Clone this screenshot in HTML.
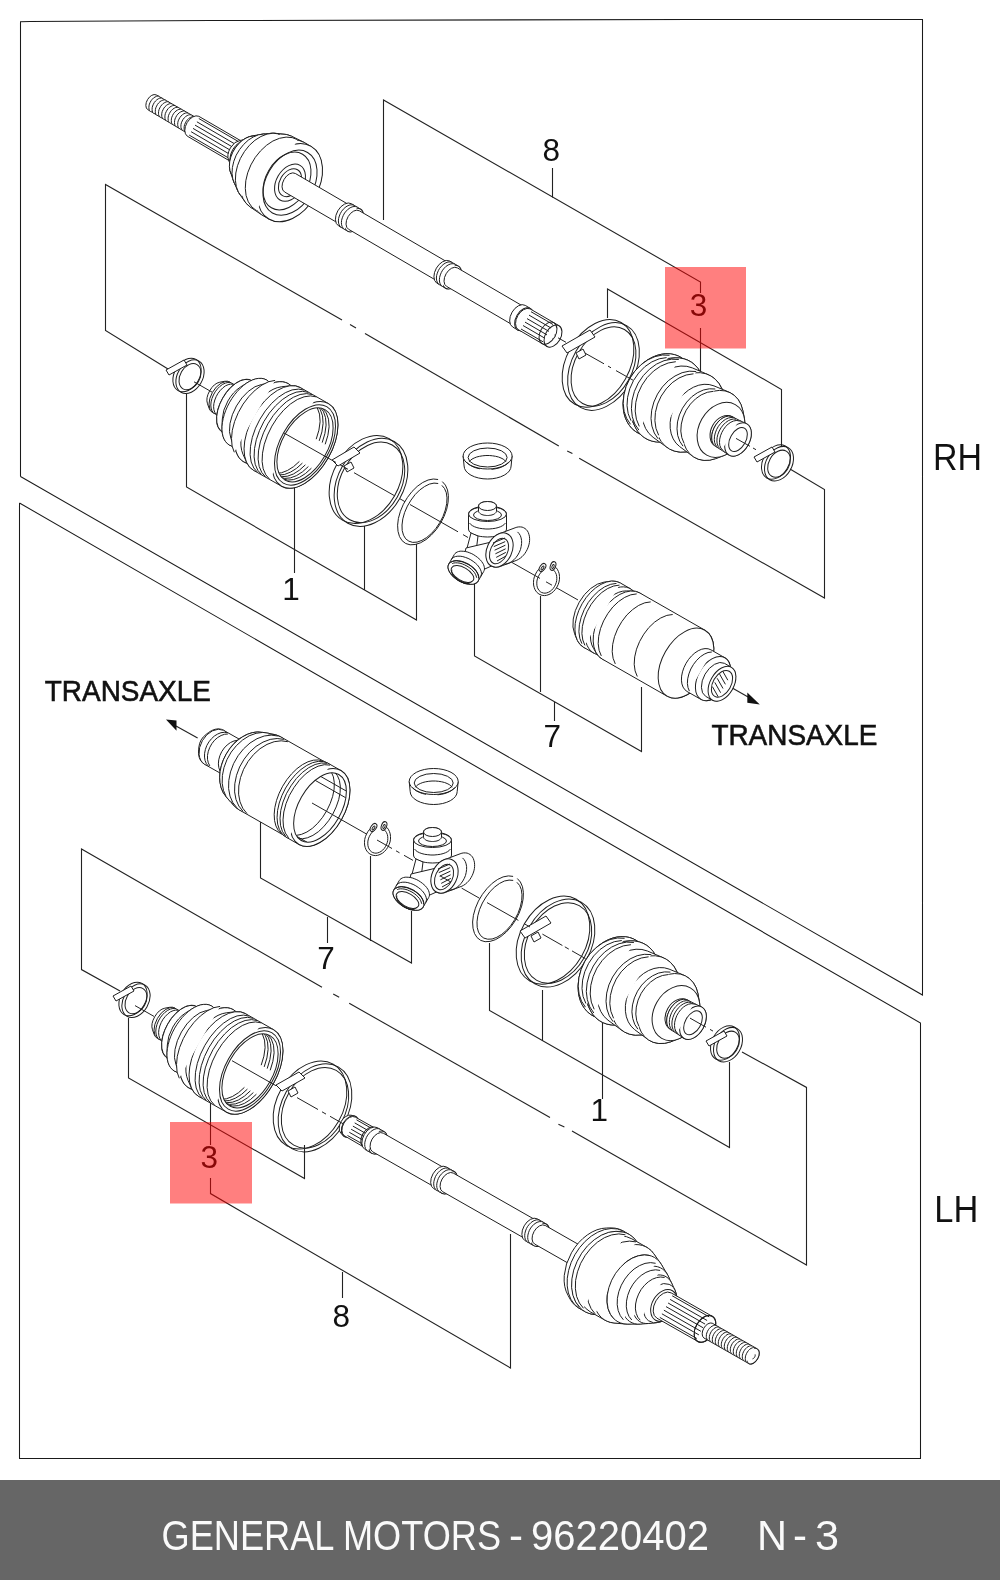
<!DOCTYPE html>
<html><head><meta charset="utf-8"><style>
html,body{margin:0;padding:0;background:#fff;}
body{width:1000px;height:1580px;overflow:hidden;position:relative;}
svg{position:absolute;left:0;top:0;will-change:transform;}
.ft{position:absolute;left:0;top:1480px;width:1000px;height:100px;background:#666;}
</style></head><body>
<svg width="1000" height="1480" viewBox="0 0 1000 1480">
<g fill="none" stroke="#1a1a1a" stroke-width="1.05">
<path d="M20.5,476.5 20.5,21.8 30,21.5 210,20.5 690,19.5 922.5,19.5 922.5,995 20.5,476.5"/>
<path d="M19.5,503 920.5,1023 920.5,1458.5 19.5,1458.5 19.5,503"/>
</g>
<g fill="none" stroke="#222" stroke-width="1.1">
<path d="M383.5,220 383.5,100 700.5,282 700.5,293"/>
<path d="M700.5,328 700.5,376"/>
<path d="M552.5,168 552.5,197.5"/>
<path d="M607.5,318 607.5,289 781.5,389.5 781.5,447"/>
<path d="M186.5,394 186.5,487 416.5,620 416.5,543"/>
<path d="M364.5,526 364.5,590"/>
<path d="M294.5,485 294.5,573"/>
<path d="M168,369 105.5,330.5 105.5,184.4 342,320"/>
<path d="M350,324.6 356,328"/>
<path d="M365,333.5 558.8,446"/>
<path d="M567.2,451 572.4,453.4"/>
<path d="M579.2,458.2 824.5,598 824.5,489.5 790,469"/>
<path d="M474.5,584 474.5,656 641.5,751.5 641.5,687"/>
<path d="M540.5,596 540.5,692"/>
<path d="M554.5,702 554.5,721"/>
<path d="M731.4,687.6 749,697.5"/>
<path d="M197.6,738 176,726"/>
</g>
<path d="M747.3,692.5 L747.3,702.8 L759.8,704.6 Z" fill="#111"/>
<path d="M166,719.6 L176.5,720.4 L176.5,730.8 Z" fill="#111"/>
<g fill="none" stroke="#222" stroke-width="1.1">
<path d="M260.5,822 260.5,878 411.5,963 411.5,911"/>
<path d="M370.5,856 370.5,941"/>
<path d="M327.5,917 327.5,943"/>
<path d="M489.5,943 489.5,1010.4 729.5,1147.6 729.5,1062"/>
<path d="M542.5,990 542.5,1041"/>
<path d="M602.5,1022 602.5,1099"/>
<path d="M120,991 81.5,969.6 81.5,849 322,987.2"/>
<path d="M333.2,994 339.2,997.2"/>
<path d="M349.2,1003.2 550,1117.5"/>
<path d="M558.4,1124.3 564.4,1127"/>
<path d="M572,1131 806.5,1265 806.5,1087.4 742,1052"/>
<path d="M210.5,1101 210.5,1145"/>
<path d="M210.5,1178 210.5,1193.6 510.5,1368 510.5,1234"/>
<path d="M342.5,1272 342.5,1298"/>
<path d="M128.5,1018 128.5,1078 304.5,1178.5 304.5,1145"/>
</g>
<g fill="#fff" stroke="#1e1e1e" stroke-width="1" stroke-linejoin="round">
<path d="M147.7,109.6L188.4,133.9A5.8 9 30.2 1 0 197.5,118.4L156.2,94.9A5.4 8.5 30.2 0 0 147.7,109.6Z" fill="#fff"/>
<ellipse cx="193" cy="126.2" rx="5.8" ry="9" transform="rotate(30.2 193 126.2)" fill="#fff"/>
<path d="M150.3,111.5 149.5,110.5 149,109.1 148.9,107.6 149,105.9 149.4,104.1 150.2,102.3 151.1,100.7 152.3,99.2 153.6,97.9 155.1,97 156.5,96.3 157.9,96.1 159.2,96.2"/>
<path d="M153.5,113.4 152.7,112.3 152.2,111 152.1,109.4 152.2,107.7 152.6,106 153.4,104.2 154.3,102.5 155.5,101 156.8,99.8 158.3,98.8 159.7,98.2 161.1,98 162.4,98.1"/>
<path d="M156.7,115.3 155.9,114.2 155.4,112.9 155.3,111.3 155.4,109.6 155.8,107.8 156.6,106.1 157.5,104.4 158.7,102.9 160,101.6 161.5,100.7 162.9,100.1 164.3,99.8 165.6,100"/>
<path d="M159.9,117.1 159.1,116.1 158.6,114.7 158.5,113.2 158.6,111.5 159,109.7 159.8,107.9 160.7,106.3 161.9,104.8 163.2,103.5 164.7,102.6 166.1,101.9 167.5,101.7 168.8,101.8"/>
<path d="M163.1,119 162.3,117.9 161.8,116.6 161.7,115 161.8,113.3 162.2,111.6 163,109.8 163.9,108.1 165.1,106.6 166.4,105.4 167.9,104.4 169.3,103.8 170.7,103.6 172,103.7"/>
<path d="M166.3,120.9 165.5,119.8 165,118.5 164.9,116.9 165,115.2 165.4,113.4 166.2,111.7 167.1,110 168.3,108.5 169.6,107.2 171.1,106.3 172.5,105.7 173.9,105.4 175.2,105.6"/>
<path d="M169.5,122.7 168.7,121.7 168.2,120.3 168.1,118.8 168.2,117.1 168.6,115.3 169.4,113.5 170.3,111.9 171.5,110.4 172.8,109.1 174.3,108.2 175.7,107.5 177.1,107.3 178.4,107.4"/>
<path d="M172.7,124.6 171.9,123.5 171.4,122.2 171.3,120.6 171.4,118.9 171.8,117.2 172.6,115.4 173.5,113.7 174.7,112.2 176,111 177.5,110 178.9,109.4 180.3,109.2 181.6,109.3"/>
<path d="M175.9,126.5 175.1,125.4 174.6,124.1 174.5,122.5 174.6,120.8 175,119 175.8,117.3 176.7,115.6 177.9,114.1 179.2,112.8 180.7,111.9 182.1,111.3 183.5,111 184.8,111.1"/>
<path d="M179.1,128.3 178.3,127.3 177.8,125.9 177.7,124.4 177.8,122.7 178.2,120.9 179,119.1 179.9,117.5 181.1,116 182.4,114.7 183.9,113.7 185.3,113.1 186.7,112.9 188,113"/>
<path d="M182.3,130.2 181.5,129.1 181,127.8 180.9,126.2 181,124.5 181.4,122.8 182.2,121 183.1,119.3 184.3,117.8 185.6,116.6 187.1,115.6 188.5,115 189.9,114.7 191.2,114.9"/>
<path d="M185.5,132.1 184.7,131 184.2,129.7 184.1,128.1 184.2,126.4 184.6,124.6 185.4,122.9 186.3,121.2 187.5,119.7 188.8,118.4 190.3,117.5 191.7,116.9 193.1,116.6 194.4,116.7"/>
<path d="M187.2,136.1L232.2,162.4A7.4 11.5 30.2 0 0 243.8,142.5L198.8,116.3A7.4 11.5 30.2 0 0 187.2,136.1Z" fill="#fff"/>
<ellipse cx="238" cy="152.4" rx="7.4" ry="11.5" transform="rotate(30.2 238 152.4)" fill="#fff"/>
<path d="M198.8,118.5 242.8,144.1"/>
<path d="M196.9,121.8 240.9,147.5"/>
<path d="M195,125.1 239,150.8"/>
<path d="M193,128.4 237,154.1"/>
<path d="M191.1,131.7 235.1,157.4"/>
<path d="M189.2,135.1 233.2,160.7"/>
<path d="M228.6,160.2L230.7,165.6A11.6 17 30.2 1 0 245.9,139.6L240.2,140.4A8.8 13 30.2 0 0 228.6,160.2Z" fill="#fff"/>
<path d="M229.9,158.9L229.5,163.3A16.3 24 30.2 1 0 243.3,139.7L239.7,142.2A11.6 17 30.2 0 0 229.9,158.9Z" fill="#fff"/>
<path d="M230.4,171.8L233.2,180.4A21.1 31 30.2 1 0 260,134.5L251.1,136.2A16.3 24 30.2 0 0 230.4,171.8Z" fill="#fff"/>
<path d="M234,182.3L237.7,190.7A25.2 37 30.2 1 0 271.2,133.3L262,134.2A21.1 31 30.2 0 0 234,182.3Z" fill="#fff"/>
<path d="M239.8,194.4L245.2,202A27.9 41 30.2 1 0 284.7,134.3L275.4,133.3A25.2 37 30.2 0 0 239.8,194.4Z" fill="#fff"/>
<path d="M250.1,206.9L260.6,214.1A28.6 42 30.2 1 0 302.8,141.7L291.3,136.1A27.9 41 30.2 0 0 250.1,206.9Z" fill="#fff"/>
<path d="M261.8,214.9L268.8,219A28.6 42 30.2 0 0 311.2,146.5L304.2,142.4A28.6 42 30.2 0 0 261.8,214.9Z" fill="#fff"/>
<ellipse cx="290" cy="182.7" rx="28.6" ry="42" transform="rotate(30.2 290 182.7)" fill="#fff"/>
<path d="M233.6,177.2 231.5,174.3 230,170.6 229.4,166.4 229.7,161.8 230.8,157 232.7,152.3 235.3,147.9 238.5,143.9 242.1,140.6 246,138.1 249.9,136.5 253.8,136 257.5,136.4"/>
<path d="M237.5,187.4 234.6,183.7 232.8,178.9 232,173.5 232.4,167.5 233.8,161.3 236.2,155.2 239.6,149.5 243.7,144.4 248.3,140.1 253.4,136.9 258.5,134.8 263.5,134.1 268.2,134.7"/>
<path d="M241.9,196.9 238.5,192.3 236.3,186.7 235.4,180.2 235.8,173 237.5,165.7 240.4,158.4 244.4,151.6 249.3,145.4 254.9,140.3 260.9,136.5 267,134.1 273,133.2 278.6,133.9"/>
<path d="M256.4,210.6 251.8,206.9 248.3,201.8 246.1,195.6 245.3,188.4 245.8,180.7 247.7,172.8 250.9,164.9 255.2,157.5 260.5,150.9 266.5,145.3 272.9,141 279.5,138.3 286.1,137.1 292.2,137.6 297.6,139.7"/>
<ellipse cx="290" cy="182.7" rx="23.8" ry="35" transform="rotate(30.2 290 182.7)" fill="none"/>
<ellipse cx="287" cy="181" rx="21.1" ry="31" transform="rotate(30.2 287 181)" fill="none"/>
<ellipse cx="290" cy="182.7" rx="13.6" ry="20" transform="rotate(30.2 290 182.7)" fill="none"/>
<ellipse cx="290" cy="182.7" rx="10.2" ry="15" transform="rotate(30.2 290 182.7)" fill="none"/>
<path d="M284.6,192L339.6,224A6.8 10.7 30.2 0 0 350.4,205.6L295.4,173.5A6.8 10.7 30.2 0 0 284.6,192Z" fill="#fff"/>
<path d="M338.6,225.9L347.6,231.1A8.2 12.8 30.2 0 0 360.4,209L351.4,203.7A8.2 12.8 30.2 0 0 338.6,225.9Z" fill="#fff"/>
<ellipse cx="354" cy="220.1" rx="8.2" ry="12.8" transform="rotate(30.2 354 220.1)" fill="#fff"/>
<path d="M341.6,227.6 340.2,226.5 339.2,225 338.6,223.1 338.4,220.9 338.6,218.5 339.3,216 340.3,213.6 341.6,211.3 343.3,209.2 345.1,207.5 347.1,206.1 349.1,205.2 351,204.8 352.8,204.9 354.4,205.5"/>
<path d="M344.6,229.4 343.2,228.3 342.2,226.7 341.6,224.8 341.4,222.6 341.6,220.3 342.3,217.8 343.3,215.4 344.6,213 346.3,211 348.1,209.2 350.1,207.8 352.1,206.9 354,206.5 355.8,206.6 357.4,207.2"/>
<path d="M348.6,229.3L437.6,281.2A6.8 10.7 30.2 0 0 448.4,262.7L359.4,210.8A6.8 10.7 30.2 0 0 348.6,229.3Z" fill="#fff"/>
<path d="M436.6,283L445.6,288.2A8.2 12.8 30.2 0 0 458.4,266.1L449.4,260.9A8.2 12.8 30.2 0 0 436.6,283Z" fill="#fff"/>
<ellipse cx="452" cy="277.2" rx="8.2" ry="12.8" transform="rotate(30.2 452 277.2)" fill="#fff"/>
<path d="M439.6,284.7 438.2,283.6 437.2,282.1 436.6,280.2 436.4,278 436.6,275.6 437.3,273.2 438.3,270.7 439.6,268.4 441.3,266.3 443.1,264.6 445.1,263.2 447.1,262.3 449,261.9 450.8,262 452.4,262.6"/>
<path d="M442.6,286.5 441.2,285.4 440.2,283.9 439.6,282 439.4,279.8 439.6,277.4 440.3,274.9 441.3,272.5 442.6,270.2 444.3,268.1 446.1,266.3 448.1,265 450.1,264.1 452,263.7 453.8,263.8 455.4,264.4"/>
<path d="M446.6,286.4L513.6,325.5A6.8 10.7 30.2 0 0 524.4,307L457.4,267.9A6.8 10.7 30.2 0 0 446.6,286.4Z" fill="#fff"/>
<path d="M512.7,327L517.7,330A8 12.5 30.2 0 0 530.3,308.4L525.3,305.4A8 12.5 30.2 0 0 512.7,327Z" fill="#fff"/>
<ellipse cx="524" cy="319.2" rx="8" ry="12.5" transform="rotate(30.2 524 319.2)" fill="#fff"/>
<path d="M518,329.5L547,346.4A7.7 12 30.2 0 0 559,325.7L530,308.8A7.7 12 30.2 0 0 518,329.5Z" fill="#fff"/>
<ellipse cx="553" cy="336.1" rx="7.7" ry="12" transform="rotate(30.2 553 336.1)" fill="#fff"/>
<path d="M531,311.7 553,324.5"/>
<path d="M529,315.1 551,328"/>
<path d="M527,318.6 549,331.4"/>
<path d="M525,322.1 547,334.9"/>
<path d="M523,325.5 545,338.3"/>
<path d="M521,329 543,341.8"/>
<ellipse cx="548" cy="333.2" rx="7.7" ry="12" transform="rotate(30.2 548 333.2)" fill="none"/>
<path d="M555.1,334.3 555.2,334.8 555.2,335.3 555.1,335.9 554.9,336.5 554.7,337 554.3,337.6 553.9,338 553.5,338.4 553,338.6 552.5,338.8"/>
<ellipse cx="598" cy="363.4" rx="31.5" ry="47" transform="rotate(29.5 598 363.4)" fill="none"/>
<ellipse cx="603.5" cy="366.5" rx="31.5" ry="47" transform="rotate(29.5 603.5 366.5)" fill="none"/>
<ellipse cx="603.5" cy="366.5" rx="28.5" ry="42.5" transform="rotate(29.5 603.5 366.5)" fill="none"/>
<path d="M562,346L590,330L595,337L567,353Z" fill="#fff"/>
<path d="M576,353L583,349L586,355L579,359Z" fill="#fff"/>
<path d="M624.4,393.4L623.9,395.8A33.1 43.5 29.5 1 0 641.7,364.4L639.9,366A28.9 38 29.5 0 0 624.4,393.4Z" fill="#fff"/>
<path d="M651.4,436.1L655.9,436A31.2 41 29.5 0 0 692.6,371L690.4,367.1A33.1 43.5 29.5 1 0 651.4,436.1Z" fill="#fff"/>
<path d="M632.6,421.7L635,426.6A33.8 44.5 29.5 1 0 673.8,357.9L668.3,358.4A31.2 41 29.5 0 0 632.6,421.7Z" fill="#fff"/>
<path d="M660.7,442.1L668.5,441.8A30.4 40 29.5 0 0 704.1,378.8L700.3,372A33.8 44.5 29.5 1 0 660.7,442.1Z" fill="#fff"/>
<path d="M653.1,437.3L667,447.4A31.9 42 29.5 1 0 708.1,374.6L692.3,367.9A30.4 40 29.5 0 0 653.1,437.3Z" fill="#fff"/>
<path d="M686.6,451.8L696.2,450.4A26.6 35 29.5 0 0 725.7,398.1L722,389.1A31.9 42 29.5 1 0 686.6,451.8Z" fill="#fff"/>
<path d="M679.7,446.6L692.6,456.2A28.1 37 29.5 1 0 728.8,392L714,385.9A26.6 35 29.5 0 0 679.7,446.6Z" fill="#fff"/>
<path d="M715.6,458.7L723,456A22 29 29.5 0 0 744.4,418.2L742.8,410.4A28.1 37 29.5 1 0 715.6,458.7Z" fill="#fff"/>
<ellipse cx="721" cy="429.9" rx="22" ry="29" transform="rotate(29.5 721 429.9)" fill="#fff"/>
<ellipse cx="724" cy="431.6" rx="12.9" ry="17" transform="rotate(29.5 724 431.6)" fill="#fff"/>
<path d="M630.5,424.3 626.6,418.3 624.1,411.3 623.2,403.3 623.9,395 626.1,386.5 629.9,378.4 634.9,371.1 640.9,364.8 647.8,359.9 655,356.6 662.4,355 669.5,355.3"/>
<path d="M631,420.7 628.2,413.7 627,405.7 627.6,397.3 629.8,388.7 633.5,380.5 638.6,373.1 644.8,366.7 651.8,361.9 659.2,358.8 666.6,357.6"/>
<path d="M638.9,430.1 634.8,424 632.3,416.8 631.4,408.6 632.1,400.1 634.4,391.4 638.2,383.1 643.3,375.6 649.5,369.2 656.5,364.1 664,360.7 671.5,359.2 678.8,359.5"/>
<path d="M639.3,426.4 636.4,419.2 635.2,411.1 635.8,402.4 638,393.6 641.9,385.2 647.1,377.6 653.5,371.1 660.6,366.2 668.2,363 675.8,361.7"/>
<path d="M658.1,438.8 654.3,433 651.9,426.1 651,418.4 651.7,410.2 653.9,402 657.5,394.1 662.4,386.9 668.3,380.7 675,376 682.1,372.7 689.2,371.2 696.2,371.5"/>
<path d="M658.7,435.3 656,428.5 654.9,420.7 655.4,412.5 657.5,404.1 661.2,396.1 666.2,388.9 672.2,382.7 679,378 686.2,375 693.5,373.8"/>
<path d="M683,446.2 679.8,441.3 677.7,435.4 677,428.8 677.5,421.9 679.4,414.9 682.5,408.2 686.7,402.1 691.7,396.8 697.3,392.8 703.4,390 709.4,388.8 715.3,389"/>
<path d="M684.1,443.4 681.8,437.6 680.8,431.1 681.3,424.1 683.1,417 686.2,410.2 690.4,404.1 695.5,398.9 701.2,394.9 707.3,392.3 713.5,391.3"/>
<path d="M715.3,446.2L724.1,451.8A11.2 17.5 29.5 1 0 741.3,421.3L732.1,416.7A10.9 17 29.5 0 0 715.3,446.2Z" fill="#fff"/>
<path d="M723.9,451.6L728.6,454.9A11.5 18 29.5 1 0 746.3,423.6L741.1,421.2A11.2 17.5 29.5 0 0 723.9,451.6Z" fill="#fff"/>
<ellipse cx="738" cy="439.5" rx="11.5" ry="18" transform="rotate(29.5 738 439.5)" fill="#fff"/>
<ellipse cx="738" cy="439.5" rx="7.8" ry="13" transform="rotate(29.5 738 439.5)" fill="none"/>
<path d="M714.4,445.4 713,443.4 712,440.9 711.7,438 711.9,434.8 712.7,431.4 714,428 715.8,424.9 718,422 720.4,419.6 723.1,417.8 725.8,416.6 728.4,416.1 730.9,416.3"/>
<path d="M717,446.9 715.6,444.9 714.6,442.4 714.3,439.5 714.5,436.2 715.3,432.9 716.6,429.5 718.4,426.3 720.6,423.5 723,421.1 725.7,419.2 728.4,418 731,417.5 733.5,417.7"/>
<path d="M719.6,448.4 718.2,446.4 717.2,443.9 716.9,440.9 717.1,437.7 717.9,434.3 719.2,431 721,427.8 723.2,425 725.6,422.6 728.3,420.7 731,419.5 733.6,419 736.1,419.2"/>
<path d="M722.2,449.8 720.8,447.9 719.8,445.3 719.5,442.4 719.7,439.2 720.5,435.8 721.8,432.5 723.6,429.3 725.8,426.4 728.2,424 730.9,422.2 733.6,421 736.2,420.5 738.7,420.7"/>
<ellipse cx="776" cy="462" rx="12.9" ry="18.5" transform="rotate(30 776 462)" fill="none"/>
<ellipse cx="779" cy="463.7" rx="12.9" ry="18.5" transform="rotate(30 779 463.7)" fill="none"/>
<ellipse cx="779" cy="463.7" rx="10.1" ry="14.5" transform="rotate(30 779 463.7)" fill="none"/>
<path d="M754,457L772,447L775,452L757,462Z" fill="#fff"/>
<ellipse cx="187" cy="375" rx="12.6" ry="18" transform="rotate(30 187 375)" fill="none"/>
<ellipse cx="190" cy="376.7" rx="12.6" ry="18" transform="rotate(30 190 376.7)" fill="none"/>
<ellipse cx="190" cy="376.7" rx="9.8" ry="14" transform="rotate(30 190 376.7)" fill="none"/>
<path d="M166,370L184,360L187,365L169,375Z" fill="#fff"/>
<path d="M207.5,403.8L209.1,408.3A10.5 17.5 29.6 1 0 224.5,381.3L219.8,382.2A8.4 14 29.6 0 0 207.5,403.8Z" fill="#fff"/>
<path d="M212.4,412.4L220.4,416.9A10.5 17.5 29.6 0 0 237.6,386.5L229.6,382A10.5 17.5 29.6 0 0 212.4,412.4Z" fill="#fff"/>
<path d="M225.2,417.7L228.7,417.1A9 15 29.6 0 0 242.1,393.6L240.8,390.3A10.5 17.5 29.6 1 0 225.2,417.7Z" fill="#fff"/>
<path d="M213.3,412.6 211.9,410.6 211.1,408.1 210.8,405.1 211.1,401.9 212,398.4 213.4,395 215.2,391.8 217.5,388.8 220,386.3 222.6,384.4 225.3,383.1 227.9,382.5 230.3,382.7"/>
<path d="M216.1,414.2 214.7,412.2 213.9,409.7 213.6,406.7 213.9,403.5 214.8,400 216.2,396.6 218,393.3 220.3,390.4 222.8,387.9 225.4,385.9 228.1,384.7 230.7,384.1 233.1,384.2"/>
<ellipse cx="237" cy="406.3" rx="16.5" ry="29.5" transform="rotate(29.6 237 406.3)" fill="#fff"/>
<path d="M227.5,433.2L232.3,433.2A15.1 27 29.6 0 0 257.7,388.4L255.3,384.3A16.5 29.5 29.6 1 0 227.5,433.2Z" fill="#fff"/>
<path d="M222.3,419.1L222,427.2A21 37.5 29.6 1 0 247.3,382.7L240.5,387A15.1 27 29.6 0 0 222.3,419.1Z" fill="#fff"/>
<path d="M236.8,446.7L242.9,446.4A19 34 29.6 0 0 274.4,390.8L271.6,385.4A21 37.5 29.6 1 0 236.8,446.7Z" fill="#fff"/>
<path d="M230.9,438.4L236.7,453.3A25.2 45 29.6 1 0 277.2,382L261.5,384.5A19 34 29.6 0 0 230.9,438.4Z" fill="#fff"/>
<path d="M253.3,463.7L258.2,463.2A23.5 42 29.6 0 0 296.8,395.3L294.7,390.9A25.2 45 29.6 1 0 253.3,463.7Z" fill="#fff"/>
<path d="M243,454.3L246.5,462.1A26.6 47.5 29.6 1 0 289.8,385.8L281.3,386.8A23.5 42 29.6 0 0 243,454.3Z" fill="#fff"/>
<path d="M253.5,470.3L281.5,486.2A26.6 47.5 29.6 0 0 328.5,403.6L300.5,387.7A26.6 47.5 29.6 0 0 253.5,470.3Z" fill="#fff"/>
<ellipse cx="305" cy="444.9" rx="26.6" ry="47.5" transform="rotate(29.6 305 444.9)" fill="#fff"/>
<path d="M257.6,472.4 253.8,468 251.2,462 250.1,454.7 250.5,446.3 252.3,437.4 255.5,428.2 259.9,419.3 265.3,410.9 271.6,403.4 278.3,397.3 285.3,392.7 292.1,389.9 298.6,389.1 304.4,390.1"/>
<path d="M261.6,474.7 257.8,470.3 255.2,464.3 254.1,456.9 254.5,448.6 256.3,439.7 259.5,430.5 263.9,421.5 269.3,413.1 275.6,405.7 282.3,399.6 289.3,395 296.1,392.2 302.6,391.3 308.4,392.4"/>
<path d="M265.6,476.9 261.8,472.5 259.2,466.5 258.1,459.2 258.5,450.9 260.3,441.9 263.5,432.8 267.9,423.8 273.3,415.4 279.6,408 286.3,401.8 293.3,397.3 300.1,394.5 306.6,393.6 312.4,394.6"/>
<path d="M269.6,479.2 265.8,474.8 263.2,468.8 262.1,461.5 262.5,453.2 264.3,444.2 267.5,435.1 271.9,426.1 277.3,417.7 283.6,410.2 290.3,404.1 297.3,399.5 304.1,396.8 310.6,395.9 316.4,396.9"/>
<path d="M234.3,452.3 232.1,446.1 231.5,438.6 232.3,430.3 234.6,421.5 238.3,412.6 243.1,404.1 248.9,396.5 255.3,390 262,385 268.7,381.7 275.1,380.4"/>
<ellipse cx="305" cy="444.9" rx="24.6" ry="44" transform="rotate(29.6 305 444.9)" fill="none"/>
<ellipse cx="305" cy="444.9" rx="22.7" ry="40.5" transform="rotate(29.6 305 444.9)" fill="none"/>
<clipPath id="c1"><ellipse cx="305" cy="444.9" rx="22.7" ry="40.5" transform="rotate(29.6 305 444.9)" fill="none"/></clipPath>
<g clip-path="url(#c1)" fill="none">
<path d="M322.6,408.5 326.3,413 328.5,419.2 329.1,426.8 327.9,435.3 325.2,444.3"/>
<path d="M319.6,406.8 323.3,411.3 325.5,417.5 326.1,425.1 324.9,433.6 322.2,442.6"/>
<path d="M316.6,405.1 320.3,409.6 322.5,415.8 323.1,423.4 321.9,431.9 319.2,440.9"/>
<path d="M313.6,403.4 317.3,407.9 319.5,414.1 320.1,421.7 318.9,430.2 316.2,439.2"/>
<path d="M311.4,468.2 305.5,473.5 299.4,477.4 293.4,479.6 287.8,480.1 282.9,478.9 278.9,475.9"/>
<path d="M308.4,466.5 302.5,471.8 296.4,475.7 290.4,477.9 284.8,478.4 279.9,477.2 275.9,474.2"/>
<path d="M305.4,464.8 299.5,470.1 293.4,474 287.4,476.2 281.8,476.7 276.9,475.4 272.9,472.5"/>
<path d="M302.4,463.1 296.5,468.4 290.4,472.2 284.4,474.5 278.8,475 273.9,473.7 269.9,470.8"/>
<path d="M299.4,461.4 293.5,466.7 287.4,470.5 281.4,472.8 275.8,473.3 270.9,472 266.9,469.1"/>
</g>
<ellipse cx="366" cy="479.5" rx="32.9" ry="47" transform="rotate(29.6 366 479.5)" fill="none"/>
<ellipse cx="371" cy="482.4" rx="32.9" ry="47" transform="rotate(29.6 371 482.4)" fill="none"/>
<ellipse cx="371" cy="482.4" rx="30.1" ry="43" transform="rotate(29.6 371 482.4)" fill="none"/>
<path d="M332,460L354,447L360,453L338,466Z" fill="#fff"/>
<path d="M344,466L351,462L354,468L347,472Z" fill="#fff"/>
<path d="M442.3,481.6 445.4,485.1 447.5,489.9 448.4,495.6 448.1,502.2 446.7,509.2 444.1,516.3 440.6,523.2 436.3,529.6 431.3,535.1 426,539.6 420.5,542.8 415.1,544.5 410.1,544.8 405.7,543.5 402.1,540.7 399.5,536.6 398,531.3 397.6,525.2 398.4,518.4 400.4,511.3 403.4,504.2 407.4,497.5 412,491.5 417.2,486.4 422.7,482.5 428.1,480 433.3,479 438.1,479.5"/>
<path d="M441.9,485.4 444.5,488.5 446.3,492.7 447,497.9 446.7,503.7 445.3,510 443,516.4 439.8,522.6 435.9,528.4 431.5,533.4 426.7,537.5 421.9,540.4 417.1,542.1 412.7,542.4 408.9,541.2 405.7,538.8 403.5,535.2 402.2,530.5 402,525 402.8,518.9 404.6,512.5 407.4,506.1 411,500.1 415.1,494.6 419.7,490 424.6,486.5 429.4,484.1 434,483.1 438.2,483.5"/>
<path d="M463.1,456L464.1,466A23.5 13 0 0 0 511.1,466L512.1,456Z" fill="#fff"/>
<ellipse cx="487.6" cy="456" rx="24.5" ry="13" transform="rotate(0 487.6 456)" fill="#fff"/>
<ellipse cx="487.6" cy="457.5" rx="19.5" ry="9.5" transform="rotate(0 487.6 457.5)" fill="none"/>
<path d="M469.2,461.8L470.4,460.4L472,459.1L474.2,458L476.7,457L479.6,456.3L482.7,455.8L485.9,455.5L489.3,455.5L492.5,455.8L495.6,456.3L498.5,457L501,458L503.2,459.1L504.8,460.4L506,461.8" fill="none"/>
<path d="M508.7,461.9L507.1,463.8L504.8,465.4L502.1,466.8L498.9,468L495.3,468.8L491.5,469.3" fill="none"/>
<path d="M479.9,468.8L476.4,468L473.1,466.8L470.4,465.4L468.1,463.8L466.5,461.9" fill="none"/>
<path d="M468.5,514L468.7,513L469.1,511.9L469.9,510.9L471,510L472.4,509.1L474.1,508.3L475.9,507.7L478,507.1L480.2,506.6L482.6,506.3L485,506.1L487.5,506L490,506.1L492.4,506.3L494.8,506.6L497,507.1L499.1,507.7L500.9,508.3L502.6,509.1L504,510L505.1,510.9L505.9,511.9L506.3,513L506.5,514L506.5,529L506.3,530L505.9,531.1L505.1,532.1L504,533L502.6,533.9L500.9,534.7L499.1,535.3L497,535.9L494.8,536.4L492.4,536.7L490,536.9L487.5,537L485,536.9L482.6,536.7L480.2,536.4L478,535.9L475.9,535.3L474.1,534.7L472.4,533.9L471,533L469.9,532.1L469.1,531.1L468.7,530L468.5,529Z" fill="#fff"/>
<ellipse cx="487.5" cy="514" rx="19" ry="7.5" transform="rotate(0 487.5 514)" fill="#fff"/>
<ellipse cx="487.5" cy="515" rx="14" ry="5.5" transform="rotate(0 487.5 515)" fill="none"/>
<path d="M505.4,523.1L504.3,524.4L502.7,525.6L500.6,526.7L498.1,527.6L495.3,528.3L492.3,528.7L489.1,529L485.9,529L482.7,528.7L479.7,528.3L476.9,527.6L474.4,526.7L472.3,525.6L470.7,524.4L469.6,523.1" fill="none"/>
<path d="M478.5,506L478.6,505.4L478.8,504.8L479.2,504.3L479.7,503.8L480.4,503.3L481.1,502.8L482,502.4L483,502.1L484.1,501.8L485.2,501.7L486.3,501.5L487.5,501.5L488.7,501.5L489.8,501.7L490.9,501.8L492,502.1L493,502.4L493.9,502.8L494.6,503.3L495.3,503.8L495.8,504.3L496.2,504.8L496.4,505.4L496.5,506L496.5,511L496.4,511.6L496.2,512.2L495.8,512.7L495.3,513.2L494.6,513.7L493.9,514.2L493,514.6L492,514.9L490.9,515.2L489.8,515.3L488.7,515.5L487.5,515.5L486.3,515.5L485.2,515.3L484.1,515.2L483,514.9L482,514.6L481.1,514.2L480.4,513.7L479.7,513.2L479.2,512.7L478.8,512.2L478.6,511.6L478.5,511Z" fill="#fff"/>
<ellipse cx="487.5" cy="506" rx="9" ry="4.5" transform="rotate(0 487.5 506)" fill="#fff"/>
<path d="M471,533L478,536L476,552L466,552Z" fill="#fff"/>
<path d="M466,548L500,540L505,560L478,572L462,565Z" fill="#fff"/>
<path d="M486.4,555.7L486.4,553.6L486.6,551.4L487.1,549.1L487.8,546.9L488.7,544.7L489.8,542.6L491,540.7L492.4,538.9L494,537.3L495.6,535.9L497.4,534.7L499.1,533.8L515.1,527.8L516.9,527.2L518.7,526.9L520.4,526.9L522.1,527.1L523.6,527.7L525,528.5L526.3,529.6L527.4,530.9L528.3,532.5L528.9,534.3L529.4,536.2L529.6,538.3L529.6,540.4L529.4,542.6L528.9,544.9L528.2,547.1L527.3,549.3L526.2,551.4L525,553.3L523.6,555.1L522,556.7L520.4,558.1L518.6,559.3L516.9,560.2L500.9,566.2L499.1,566.8L497.3,567.1L495.6,567.1L493.9,566.9L492.4,566.3L491,565.5L489.7,564.4L488.6,563.1L487.7,561.5L487.1,559.7L486.6,557.8Z" fill="#fff"/>
<path d="M517.5,531.9L519,533.5L520.3,535.5L521.1,537.9L521.6,540.6L521.6,543.4L521.2,546.4L520.5,549.4L519.3,552.3L517.8,555L516,557.5L514,559.7L511.8,561.5L509.5,562.9L507.1,563.8L504.7,564.1L502.5,564L500.4,563.3" fill="none"/>
<ellipse cx="499.5" cy="550" rx="12.5" ry="18" transform="rotate(25 499.5 550)" fill="#fff"/>
<ellipse cx="499" cy="551" rx="8.5" ry="13.5" transform="rotate(25 499 551)" fill="none"/>
<path d="M493,543 505,538"/>
<path d="M493.8,546.6 505.2,541.6"/>
<path d="M494.6,550.2 505.4,545.2"/>
<path d="M495.4,553.8 505.6,548.8"/>
<path d="M496.2,557.4 505.8,552.4"/>
<path d="M497,561 506,556"/>
<path d="M448,566.4L448.3,565.1L448.8,564L454.3,554.5L455,553.5L456,552.7L457.2,552L458.6,551.5L460.2,551.2L461.9,551.2L463.8,551.3L465.8,551.6L467.8,552.1L469.8,552.9L471.8,553.7L473.8,554.8L475.6,556L477.4,557.3L479,558.7L480.5,560.1L481.7,561.6L482.8,563.2L483.6,564.7L484.1,566.2L484.4,567.7L484.5,569.1L484.2,570.4L483.7,571.5L478.2,581L477.5,582L476.5,582.8L475.3,583.5L473.9,584L472.3,584.3L470.6,584.3L468.7,584.2L466.7,583.9L464.7,583.4L462.7,582.6L460.7,581.8L458.8,580.7L456.9,579.5L455.1,578.2L453.5,576.8L452,575.4L450.8,573.9L449.7,572.3L448.9,570.8L448.4,569.3L448.1,567.8Z" fill="#fff"/>
<path d="M451.3,559.5L452.3,558.2L453.8,557.2L455.6,556.5L457.8,556.2L460.2,556.2L462.8,556.6L465.4,557.4L468.1,558.4L470.8,559.8L473.2,561.4L475.5,563.2L477.5,565.1L479.1,567.2L480.3,569.2L481.1,571.2L481.5,573.2L481.3,574.9L480.7,576.5" fill="none"/>
<ellipse cx="463.5" cy="572.5" rx="17" ry="9.5" transform="rotate(30 463.5 572.5)" fill="#fff"/>
<ellipse cx="462.5" cy="574" rx="12.5" ry="6.5" transform="rotate(30 462.5 574)" fill="none"/>
<path d="M472,581.2L471.3,582L470.4,582.5L469.2,582.9L467.9,583L466.3,582.8L464.6,582.5L462.8,581.9L461,581.2L459.2,580.3L457.6,579.2L456,578L454.6,576.8L453.5,575.5L452.6,574.2L452,572.9L451.7,571.7L451.7,570.7L452,569.8" fill="none"/>
<path d="M469.3,583.3L468.2,583.5L467,583.5L465.6,583.4L464.1,583L462.5,582.5L460.9,581.7L459.2,580.9L457.7,579.9L456.3,578.9L455,577.8L453.9,576.6L453.1,575.5L452.5,574.4L452.2,573.4" fill="none"/>
<path d="M452.2,563.6L453.8,563L455.6,562.8L457.7,562.9L460,563.2L462.3,563.9L464.7,564.9L467,566.1L469.2,567.5L471.2,569.1L473,570.8L474.4,572.5L475.5,574.3L476.2,576L476.6,577.7" fill="none"/>
<path d="M451.1,562.3L452.4,561.5L454.1,560.9L456.1,560.6L458.3,560.7L460.8,561.1L463.3,561.8L465.8,562.9L468.2,564.1L470.6,565.6L472.7,567.3L474.6,569.1L476.2,571L477.3,572.9L478.1,574.7L478.5,576.5L478.4,578.1" fill="none"/>
<path d="M554,566L555.8,567.4L557.3,569.2L558.4,571.4L559.2,573.8L559.5,576.5L559.5,579.2L559,582L558.1,584.7L556.8,587.3L555.2,589.6L553.4,591.6L551.3,593.3L549,594.5L546.7,595.3L544.4,595.6L542.1,595.3L540,594.6L538.1,593.4L536.4,591.8L535.1,589.8L534.2,587.5L533.6,585L533.5,582.3L533.7,579.5L534.4,576.7L535.5,574.1L536.9,571.6L538.6,569.4L540.6,567.5L542.8,566.1" fill="none"/>
<path d="M553.3,569.9L554.5,571.1L555.5,572.6L556.3,574.4L556.7,576.3L556.8,578.4L556.7,580.5L556.2,582.7L555.4,584.8L554.4,586.7L553.2,588.5L551.7,590.1L550.1,591.4L548.4,592.3L546.7,592.9L545,593.2L543.3,593L541.7,592.5L540.3,591.7L539.1,590.5L538.1,589L537.3,587.2L536.9,585.3L536.8,583.2L536.9,581.1L537.4,578.9L538.2,576.8L539.2,574.9L540.4,573.1L541.9,571.5L543.5,570.2" fill="none"/>
<ellipse cx="542.5" cy="567.5" rx="2.6" ry="4.5" transform="rotate(35 542.5 567.5)" fill="#fff"/>
<ellipse cx="553" cy="566" rx="2.6" ry="4.5" transform="rotate(20 553 566)" fill="#fff"/>
<ellipse cx="542.5" cy="568" rx="1" ry="2.2" transform="rotate(35 542.5 568)" fill="none"/>
<ellipse cx="553" cy="566.5" rx="1" ry="2.2" transform="rotate(20 553 566.5)" fill="none"/>
<path d="M574.6,633.8L576.8,639.2A22.9 37 29.8 1 0 610,581.3L604.1,582.1A20.5 33 29.8 0 0 574.6,633.8Z" fill="#fff"/>
<path d="M583.6,647.3L593.6,653A22.9 37 29.8 0 0 630.4,588.7L620.4,583A22.9 37 29.8 0 0 583.6,647.3Z" fill="#fff"/>
<path d="M599.7,654.9L604.3,655.3A21.7 35 29.8 0 0 637.8,596.8L635.1,593A22.9 37 29.8 1 0 599.7,654.9Z" fill="#fff"/>
<path d="M593.5,648.4L596.5,653.5A23.6 38 29.8 1 0 632.3,591L626.4,590.9A21.7 35 29.8 0 0 593.5,648.4Z" fill="#fff"/>
<path d="M602.1,659L667.1,696.2A23.6 38 29.8 0 0 704.9,630.2L639.9,593A23.6 38 29.8 0 0 602.1,659Z" fill="#fff"/>
<ellipse cx="686" cy="663.2" rx="23.6" ry="38" transform="rotate(29.8 686 663.2)" fill="#fff"/>
<path d="M581.9,643.7 579.8,638.3 578.9,631.8 579.4,624.7 581.2,617.2 584.2,609.7 588.2,602.6 593.2,596.2 598.8,590.8 604.7,586.8 610.7,584.3 616.5,583.4"/>
<path d="M584.9,645.4 582.8,640 581.9,633.6 582.4,626.4 584.2,618.9 587.2,611.4 591.2,604.3 596.2,597.9 601.8,592.5 607.7,588.5 613.7,586 619.5,585.1"/>
<path d="M601.3,655.9 599.1,650.3 598.2,643.7 598.7,636.3 600.5,628.6 603.6,620.9 607.8,613.6 612.8,607 618.6,601.5 624.7,597.4 630.8,594.8 636.7,593.9"/>
<path d="M615.3,663.9 613.1,658.3 612.2,651.7 612.7,644.3 614.5,636.6 617.6,628.9 621.8,621.6 626.8,615 632.6,609.6 638.7,605.4 644.8,602.8 650.7,601.9"/>
<path d="M637.3,676.5 635.1,670.9 634.2,664.3 634.7,656.9 636.5,649.2 639.6,641.5 643.8,634.2 648.8,627.6 654.6,622.1 660.7,618 666.8,615.4 672.7,614.5"/>
<path d="M687.1,691.5L701.1,699.5A14.9 24 29.8 0 0 724.9,657.8L710.9,649.8A14.9 24 29.8 0 0 687.1,691.5Z" fill="#fff"/>
<ellipse cx="713" cy="678.6" rx="14.9" ry="24" transform="rotate(29.8 713 678.6)" fill="#fff"/>
<path d="M705.6,696.3L712.6,700.3A11.8 19 29.8 0 0 731.4,667.3L724.4,663.3A11.8 19 29.8 0 0 705.6,696.3Z" fill="#fff"/>
<ellipse cx="722" cy="683.8" rx="11.8" ry="19" transform="rotate(29.8 722 683.8)" fill="#fff"/>
<path d="M689.4,691.1 688,687.6 687.4,683.4 687.7,678.8 688.9,673.9 690.8,669 693.5,664.4 696.7,660.3 700.3,656.8 704.2,654.2 708,652.5 711.8,652"/>
<ellipse cx="722" cy="683.8" rx="9" ry="14.5" transform="rotate(29.8 722 683.8)" fill="none"/>
<clipPath id="c2"><ellipse cx="722" cy="683.8" rx="9" ry="14.5" transform="rotate(29.8 722 683.8)" fill="none"/></clipPath>
<g clip-path="url(#c2)" fill="none">
<path d="M722,669.9 727.8,680.2"/>
<path d="M719.6,674.1 725.4,684.3"/>
<path d="M717.2,678.3 723,688.5"/>
<path d="M714.8,682.4 720.6,692.7"/>
<path d="M712.4,686.6 718.2,696.8"/>
<path d="M710,690.8 715.9,701"/>
</g>
<path d="M198.9,746.9L198.6,749.9A14 19.5 29.6 1 0 208.4,732.6L206,734.5A10.1 14 29.6 0 0 198.9,746.9Z" fill="#fff"/>
<path d="M204.4,764.2L224.4,775.5A14 19.5 29.6 0 0 243.6,741.6L223.6,730.3A14 19.5 29.6 0 0 204.4,764.2Z" fill="#fff"/>
<path d="M227.5,776.7L232,777.6A13 18 29.6 0 0 249.3,747.2L246.2,743.8A14 19.5 29.6 1 0 227.5,776.7Z" fill="#fff"/>
<path d="M208.4,766.1 206.4,763.7 205.1,760.6 204.5,757.1 204.6,753.3 205.4,749.4 206.8,745.5 208.9,741.9 211.5,738.7 214.4,736 217.7,734 221,732.7 224.3,732.3 227.4,732.7"/>
<path d="M209.8,765.9 208.3,762.8 207.5,759.3 207.5,755.4 208.3,751.3 209.8,747.3 211.9,743.6 214.6,740.2 217.7,737.5 221.1,735.5 224.5,734.3 227.9,734"/>
<ellipse cx="250" cy="767.7" rx="27.4" ry="38" transform="rotate(29.6 250 767.7)" fill="#fff"/>
<path d="M225.9,796.3L233.3,805A30.2 42 29.6 1 0 273.5,734.3L262.2,732.3A27.4 38 29.6 0 0 225.9,796.3Z" fill="#fff"/>
<path d="M239.2,809.9L283.2,834.9A30.2 42 29.6 0 0 324.8,761.9L280.8,736.9A30.2 42 29.6 0 0 239.2,809.9Z" fill="#fff"/>
<path d="M230.2,801.7 226.2,796.7 223.5,790.5 222.2,783.3 222.4,775.5 224,767.5 227,759.5 231.2,752.1 236.5,745.5 242.6,740 249.2,735.8 256.1,733.3 262.8,732.4 269.1,733.3"/>
<path d="M237,807.9 232.8,802.6 230,796.1 228.6,788.5 228.8,780.4 230.5,771.9 233.6,763.6 238.1,755.7 243.6,748.8 250,743 257,738.7 264.2,736 271.2,735.1 277.9,736"/>
<path d="M243,811.3 238.8,806 236,799.5 234.6,791.9 234.8,783.8 236.5,775.3 239.6,767 244.1,759.2 249.6,752.2 256,746.4 263,742.1 270.2,739.4 277.2,738.5 283.9,739.4"/>
<path d="M247,813.6 242.8,808.3 240,801.8 238.6,794.2 238.8,786 240.5,777.6 243.6,769.3 248.1,761.4 253.6,754.5 260,748.7 267,744.4 274.2,741.7 281.2,740.8 287.9,741.7"/>
<path d="M281.5,833.8L284.3,835.9A24.6 42.5 29.6 1 0 326.1,762.3L322.9,761A24.4 42 29.6 0 0 281.5,833.8Z" fill="#fff"/>
<path d="M286,837.1L299,844.5A24.6 42.5 29.6 0 0 341,770.6L328,763.2A24.6 42.5 29.6 0 0 286,837.1Z" fill="#fff"/>
<ellipse cx="320" cy="807.5" rx="24.6" ry="42.5" transform="rotate(29.6 320 807.5)" fill="#fff"/>
<path d="M285.6,836.1 282.4,831.4 280.5,825.3 280,818.2 280.8,810.3 283,802 286.4,793.7 291,785.8 296.3,778.6 302.3,772.5 308.7,767.7 315.1,764.5 321.3,763 327,763.3"/>
<path d="M288.6,837.8 285.4,833.1 283.5,827 283,819.9 283.8,812 286,803.7 289.4,795.4 294,787.5 299.3,780.3 305.3,774.2 311.7,769.4 318.1,766.2 324.3,764.7 330,765.1"/>
<ellipse cx="320" cy="807.5" rx="21.3" ry="38" transform="rotate(29.6 320 807.5)" fill="none"/>
<clipPath id="c3"><ellipse cx="320" cy="807.5" rx="21.3" ry="38" transform="rotate(29.6 320 807.5)" fill="none"/></clipPath>
<g clip-path="url(#c3)" fill="none">
<path d="M334.3,772.1 337.4,775.6 339.4,780.3 340.3,786.1 340.1,792.6 338.7,799.7 336.2,806.9 332.8,814.1 328.6,820.7 323.7,826.7 318.4,831.7 312.9,835.4 307.4,837.8 302.3,838.8 297.6,838.2 293.7,836.1"/>
<path d="M328.3,768.7 331.4,772.2 333.4,776.9 334.3,782.7 334.1,789.2 332.7,796.3 330.2,803.5 326.8,810.6 322.6,817.3 317.7,823.3 312.4,828.3 306.9,832 301.4,834.4 296.3,835.4 291.6,834.8 287.7,832.7"/>
<path d="M346.4,791.1 296.4,762.6"/>
<path d="M345.8,797.8 295.8,769.3"/>
<path d="M307,842.2 257,813.7"/>
<path d="M302.5,841.2 252.5,812.8"/>
<path d="M306.6,789.3 256.6,760.9"/>
<path d="M311.6,783.6 261.6,755.1"/>
</g>
<path d="M409.2,781.5L410.2,791.5A23.5 13 0 0 0 457.2,791.5L458.2,781.5Z" fill="#fff"/>
<ellipse cx="433.7" cy="781.5" rx="24.5" ry="13" transform="rotate(0 433.7 781.5)" fill="#fff"/>
<ellipse cx="433.7" cy="783" rx="19.5" ry="9.5" transform="rotate(0 433.7 783)" fill="none"/>
<path d="M415.3,787.3L416.5,785.9L418.1,784.6L420.3,783.5L422.8,782.5L425.7,781.8L428.8,781.3L432,781L435.4,781L438.6,781.3L441.7,781.8L444.6,782.5L447.1,783.5L449.3,784.6L450.9,785.9L452.1,787.3" fill="none"/>
<path d="M454.8,787.4L453.2,789.2L450.9,790.9L448.2,792.3L444.9,793.5L441.4,794.3L437.6,794.8" fill="none"/>
<path d="M426,794.3L422.4,793.5L419.2,792.3L416.5,790.9L414.2,789.2L412.6,787.4" fill="none"/>
<path d="M413.5,840L413.7,839L414.1,837.9L414.9,836.9L416,836L417.4,835.1L419.1,834.3L420.9,833.7L423,833.1L425.2,832.6L427.6,832.3L430,832.1L432.5,832L435,832.1L437.4,832.3L439.8,832.6L442,833.1L444.1,833.7L445.9,834.3L447.6,835.1L449,836L450.1,836.9L450.9,837.9L451.3,839L451.5,840L451.5,855L451.3,856L450.9,857.1L450.1,858.1L449,859L447.6,859.9L445.9,860.7L444.1,861.3L442,861.9L439.8,862.4L437.4,862.7L435,862.9L432.5,863L430,862.9L427.6,862.7L425.2,862.4L423,861.9L420.9,861.3L419.1,860.7L417.4,859.9L416,859L414.9,858.1L414.1,857.1L413.7,856L413.5,855Z" fill="#fff"/>
<ellipse cx="432.5" cy="840" rx="19" ry="7.5" transform="rotate(0 432.5 840)" fill="#fff"/>
<ellipse cx="432.5" cy="841" rx="14" ry="5.5" transform="rotate(0 432.5 841)" fill="none"/>
<path d="M450.4,849.1L449.3,850.4L447.7,851.6L445.6,852.7L443.1,853.6L440.3,854.3L437.3,854.7L434.1,855L430.9,855L427.7,854.7L424.7,854.3L421.9,853.6L419.4,852.7L417.3,851.6L415.7,850.4L414.6,849.1" fill="none"/>
<path d="M423.5,832L423.6,831.4L423.8,830.8L424.2,830.3L424.7,829.8L425.4,829.3L426.1,828.8L427,828.4L428,828.1L429.1,827.8L430.2,827.7L431.3,827.5L432.5,827.5L433.7,827.5L434.8,827.7L435.9,827.8L437,828.1L438,828.4L438.9,828.8L439.6,829.3L440.3,829.8L440.8,830.3L441.2,830.8L441.4,831.4L441.5,832L441.5,837L441.4,837.6L441.2,838.2L440.8,838.7L440.3,839.2L439.6,839.7L438.9,840.2L438,840.6L437,840.9L435.9,841.2L434.8,841.3L433.7,841.5L432.5,841.5L431.3,841.5L430.2,841.3L429.1,841.2L428,840.9L427,840.6L426.1,840.2L425.4,839.7L424.7,839.2L424.2,838.7L423.8,838.2L423.6,837.6L423.5,837Z" fill="#fff"/>
<ellipse cx="432.5" cy="832" rx="9" ry="4.5" transform="rotate(0 432.5 832)" fill="#fff"/>
<path d="M416,859L423,862L421,878L411,878Z" fill="#fff"/>
<path d="M411,874L445,866L450,886L423,898L407,891Z" fill="#fff"/>
<path d="M431.4,881.7L431.4,879.6L431.6,877.4L432.1,875.1L432.8,872.9L433.7,870.7L434.8,868.6L436,866.7L437.4,864.9L439,863.3L440.6,861.9L442.4,860.7L444.1,859.8L460.1,853.8L461.9,853.2L463.7,852.9L465.4,852.9L467.1,853.1L468.6,853.7L470,854.5L471.3,855.6L472.4,856.9L473.3,858.5L473.9,860.3L474.4,862.2L474.6,864.3L474.6,866.4L474.4,868.6L473.9,870.9L473.2,873.1L472.3,875.3L471.2,877.4L470,879.3L468.6,881.1L467,882.7L465.4,884.1L463.6,885.3L461.9,886.2L445.9,892.2L444.1,892.8L442.3,893.1L440.6,893.1L438.9,892.9L437.4,892.3L436,891.5L434.7,890.4L433.6,889.1L432.7,887.5L432.1,885.7L431.6,883.8Z" fill="#fff"/>
<path d="M462.5,857.9L464,859.5L465.3,861.5L466.1,863.9L466.6,866.6L466.6,869.4L466.2,872.4L465.5,875.4L464.3,878.3L462.8,881L461,883.5L459,885.7L456.8,887.5L454.5,888.9L452.1,889.8L449.7,890.1L447.5,890L445.4,889.3" fill="none"/>
<ellipse cx="444.5" cy="876" rx="12.5" ry="18" transform="rotate(25 444.5 876)" fill="#fff"/>
<ellipse cx="444" cy="877" rx="8.5" ry="13.5" transform="rotate(25 444 877)" fill="none"/>
<path d="M438,869 450,864"/>
<path d="M438.8,872.6 450.2,867.6"/>
<path d="M439.6,876.2 450.4,871.2"/>
<path d="M440.4,879.8 450.6,874.8"/>
<path d="M441.2,883.4 450.8,878.4"/>
<path d="M442,887 451,882"/>
<path d="M393,892.4L393.3,891.1L393.8,890L399.3,880.5L400,879.5L401,878.7L402.2,878L403.6,877.5L405.2,877.2L406.9,877.2L408.8,877.3L410.8,877.6L412.8,878.1L414.8,878.9L416.8,879.7L418.8,880.8L420.6,882L422.4,883.3L424,884.7L425.5,886.1L426.7,887.6L427.8,889.2L428.6,890.7L429.1,892.2L429.4,893.7L429.5,895.1L429.2,896.4L428.7,897.5L423.2,907L422.5,908L421.5,908.8L420.3,909.5L418.9,910L417.3,910.3L415.6,910.3L413.7,910.2L411.7,909.9L409.7,909.4L407.7,908.6L405.7,907.8L403.8,906.7L401.9,905.5L400.1,904.2L398.5,902.8L397,901.4L395.8,899.9L394.7,898.3L393.9,896.8L393.4,895.3L393.1,893.8Z" fill="#fff"/>
<path d="M396.3,885.5L397.3,884.2L398.8,883.2L400.6,882.5L402.8,882.2L405.2,882.2L407.8,882.6L410.4,883.4L413.1,884.4L415.8,885.8L418.2,887.4L420.5,889.2L422.5,891.1L424.1,893.2L425.3,895.2L426.1,897.2L426.5,899.2L426.3,900.9L425.7,902.5" fill="none"/>
<ellipse cx="408.5" cy="898.5" rx="17" ry="9.5" transform="rotate(30 408.5 898.5)" fill="#fff"/>
<ellipse cx="407.5" cy="900" rx="12.5" ry="6.5" transform="rotate(30 407.5 900)" fill="none"/>
<path d="M417,907.2L416.3,908L415.4,908.5L414.2,908.9L412.9,909L411.3,908.8L409.6,908.5L407.8,907.9L406,907.2L404.2,906.3L402.6,905.2L401,904L399.6,902.8L398.5,901.5L397.6,900.2L397,898.9L396.7,897.7L396.7,896.7L397,895.8" fill="none"/>
<path d="M414.3,909.3L413.2,909.5L412,909.5L410.6,909.4L409.1,909L407.5,908.5L405.9,907.7L404.2,906.9L402.7,905.9L401.3,904.9L400,903.8L398.9,902.6L398.1,901.5L397.5,900.4L397.2,899.4" fill="none"/>
<path d="M397.2,889.6L398.8,889L400.6,888.8L402.7,888.9L405,889.2L407.3,889.9L409.7,890.9L412,892.1L414.2,893.5L416.2,895.1L418,896.8L419.4,898.5L420.5,900.3L421.2,902L421.6,903.7" fill="none"/>
<path d="M396.1,888.3L397.4,887.5L399.1,886.9L401.1,886.6L403.3,886.7L405.8,887.1L408.3,887.8L410.8,888.9L413.2,890.1L415.6,891.6L417.7,893.3L419.6,895.1L421.2,897L422.3,898.9L423.1,900.7L423.5,902.5L423.4,904.1" fill="none"/>
<path d="M385,826L386.8,827.4L388.3,829.2L389.4,831.4L390.2,833.8L390.5,836.5L390.5,839.2L390,842L389.1,844.7L387.8,847.3L386.2,849.6L384.4,851.6L382.3,853.3L380,854.5L377.7,855.3L375.4,855.6L373.1,855.3L371,854.6L369.1,853.4L367.4,851.8L366.1,849.8L365.2,847.5L364.6,845L364.5,842.3L364.7,839.5L365.4,836.7L366.5,834.1L367.9,831.6L369.6,829.4L371.6,827.5L373.8,826.1" fill="none"/>
<path d="M384.3,829.9L385.5,831.1L386.5,832.6L387.3,834.4L387.7,836.3L387.8,838.4L387.7,840.5L387.2,842.7L386.4,844.8L385.4,846.7L384.2,848.5L382.7,850.1L381.1,851.4L379.4,852.3L377.7,852.9L376,853.2L374.3,853L372.7,852.5L371.3,851.7L370.1,850.5L369.1,849L368.3,847.2L367.9,845.3L367.8,843.2L367.9,841.1L368.4,838.9L369.2,836.8L370.2,834.9L371.4,833.1L372.9,831.5L374.5,830.2" fill="none"/>
<ellipse cx="373.5" cy="827.5" rx="2.6" ry="4.5" transform="rotate(35 373.5 827.5)" fill="#fff"/>
<ellipse cx="384" cy="826" rx="2.6" ry="4.5" transform="rotate(20 384 826)" fill="#fff"/>
<ellipse cx="373.5" cy="828" rx="1" ry="2.2" transform="rotate(35 373.5 828)" fill="none"/>
<ellipse cx="384" cy="826.5" rx="1" ry="2.2" transform="rotate(20 384 826.5)" fill="none"/>
<path d="M517.3,878.5 520.4,882 522.5,886.8 523.4,892.6 523.1,899.1 521.7,906.1 519.1,913.2 515.6,920.1 511.2,926.5 506.3,932 500.9,936.5 495.4,939.7 490.1,941.4 485.1,941.7 480.7,940.4 477.1,937.6 474.5,933.5 473,928.2 472.6,922 473.4,915.3 475.4,908.2 478.4,901.1 482.4,894.4 487.1,888.4 492.2,883.3 497.7,879.4 503.1,876.9 508.4,875.9 513.1,876.4"/>
<path d="M516.9,882.3 519.6,885.4 521.3,889.6 522,894.8 521.7,900.6 520.3,906.9 518,913.3 514.8,919.5 510.9,925.3 506.5,930.3 501.7,934.4 496.8,937.3 492.1,939 487.7,939.2 483.8,938.1 480.7,935.7 478.5,932.1 477.2,927.4 477,921.8 477.8,915.8 479.6,909.4 482.4,903 486,897 490.1,891.5 494.8,886.9 499.6,883.4 504.4,881 509.1,880.1 513.2,880.4"/>
<ellipse cx="553" cy="940.1" rx="32.9" ry="47" transform="rotate(29.6 553 940.1)" fill="none"/>
<ellipse cx="558" cy="943" rx="32.9" ry="47" transform="rotate(29.6 558 943)" fill="none"/>
<ellipse cx="558" cy="943" rx="30.1" ry="43" transform="rotate(29.6 558 943)" fill="none"/>
<path d="M520,931L546,916L551,923L525,938Z" fill="#fff"/>
<path d="M531,936L538,932L541,938L534,942Z" fill="#fff"/>
<path d="M579.3,976.4L578.9,978.8A33.1 43.5 29.6 1 0 596.9,947.1L595.1,948.7A28.9 38 29.6 0 0 579.3,976.4Z" fill="#fff"/>
<path d="M606.3,1019L610.7,1018.9A31.2 41 29.6 0 0 647.6,954L645.5,950.1A33.1 43.5 29.6 1 0 606.3,1019Z" fill="#fff"/>
<path d="M587.5,1004.6L589.9,1009.5A33.8 44.5 29.6 1 0 628.9,940.9L623.5,941.4A31.2 41 29.6 0 0 587.5,1004.6Z" fill="#fff"/>
<path d="M615.6,1025.1L623.3,1024.8A30.4 40 29.6 0 0 659.1,961.8L655.4,955A33.8 44.5 29.6 1 0 615.6,1025.1Z" fill="#fff"/>
<path d="M608,1020.2L621.9,1030.4A31.9 42 29.6 1 0 663.2,957.7L647.4,951A30.4 40 29.6 0 0 608,1020.2Z" fill="#fff"/>
<path d="M641.4,1034.9L651,1033.4A26.6 35 29.6 0 0 680.7,981.2L677.1,972.2A31.9 42 29.6 1 0 641.4,1034.9Z" fill="#fff"/>
<path d="M634.6,1029.6L647.5,1039.2A28.1 37 29.6 1 0 683.9,975.2L669.1,969.1A26.6 35 29.6 0 0 634.6,1029.6Z" fill="#fff"/>
<path d="M670.4,1041.9L677.9,1039.2A22 29 29.6 0 0 699.4,1001.4L697.9,993.6A28.1 37 29.6 1 0 670.4,1041.9Z" fill="#fff"/>
<ellipse cx="676" cy="1013.1" rx="22" ry="29" transform="rotate(29.6 676 1013.1)" fill="#fff"/>
<ellipse cx="679" cy="1014.8" rx="12.9" ry="17" transform="rotate(29.6 679 1014.8)" fill="#fff"/>
<path d="M585.4,1007.1 581.5,1001.2 579.1,994.1 578.2,986.1 578.9,977.8 581.2,969.3 584.9,961.3 589.9,953.9 596,947.7 602.9,942.8 610.1,939.5 617.5,938 624.6,938.3"/>
<path d="M585.9,1003.5 583.1,996.5 582,988.6 582.6,980.1 584.8,971.6 588.6,963.4 593.7,955.9 599.9,949.6 606.9,944.8 614.3,941.7 621.8,940.5"/>
<path d="M593.8,1013 589.8,1006.9 587.3,999.6 586.3,991.5 587.1,982.9 589.4,974.3 593.3,966 598.4,958.5 604.6,952.1 611.6,947.1 619.1,943.7 626.6,942.1 633.9,942.5"/>
<path d="M594.2,1009.3 591.3,1002.1 590.2,994 590.8,985.3 593.1,976.5 596.9,968.1 602.2,960.5 608.5,954 615.7,949.1 623.3,945.9 630.9,944.7"/>
<path d="M613.1,1021.7 609.3,1015.9 606.9,1009 606,1001.3 606.7,993.1 608.9,984.9 612.6,977 617.5,969.8 623.4,963.7 630.1,958.9 637.2,955.7 644.3,954.3 651.3,954.6"/>
<path d="M613.6,1018.3 610.9,1011.4 609.8,1003.7 610.4,995.4 612.6,987.1 616.2,979.1 621.2,971.8 627.3,965.7 634.1,961 641.3,958 648.6,956.8"/>
<path d="M637.9,1029.2 634.7,1024.3 632.7,1018.4 631.9,1011.8 632.5,1004.9 634.4,997.9 637.5,991.2 641.7,985.1 646.8,979.9 652.4,975.9 658.4,973.1 664.5,971.9 670.4,972.1"/>
<path d="M639,1026.4 636.7,1020.7 635.8,1014.1 636.3,1007.1 638.1,1000.1 641.2,993.3 645.4,987.2 650.6,982 656.3,978 662.4,975.5 668.6,974.5"/>
<path d="M670.3,1029.4L679,1035A11.2 17.5 29.6 1 0 696.3,1004.5L687.1,999.9A10.9 17 29.6 0 0 670.3,1029.4Z" fill="#fff"/>
<path d="M678.8,1034.8L683.6,1038.1A11.5 18 29.6 1 0 701.3,1006.8L696.1,1004.4A11.2 17.5 29.6 0 0 678.8,1034.8Z" fill="#fff"/>
<ellipse cx="693" cy="1022.8" rx="11.5" ry="18" transform="rotate(29.6 693 1022.8)" fill="#fff"/>
<ellipse cx="693" cy="1022.8" rx="7.8" ry="13" transform="rotate(29.6 693 1022.8)" fill="none"/>
<path d="M669.4,1028.6 667.9,1026.6 667,1024.1 666.7,1021.1 666.9,1017.9 667.7,1014.5 669,1011.2 670.8,1008 673,1005.2 675.5,1002.8 678.1,1001 680.8,999.8 683.5,999.3 685.9,999.5"/>
<path d="M672,1030.1 670.5,1028.1 669.6,1025.6 669.3,1022.6 669.5,1019.4 670.3,1016 671.6,1012.7 673.4,1009.5 675.6,1006.7 678.1,1004.3 680.7,1002.4 683.4,1001.2 686.1,1000.7 688.5,1001"/>
<path d="M674.6,1031.5 673.1,1029.6 672.2,1027 671.9,1024.1 672.1,1020.9 672.9,1017.5 674.2,1014.2 676,1011 678.2,1008.1 680.7,1005.7 683.3,1003.9 686,1002.7 688.7,1002.2 691.1,1002.4"/>
<path d="M677.2,1033 675.7,1031 674.8,1028.5 674.5,1025.6 674.7,1022.3 675.5,1019 676.8,1015.6 678.6,1012.5 680.8,1009.6 683.3,1007.2 685.9,1005.4 688.6,1004.2 691.3,1003.7 693.7,1003.9"/>
<ellipse cx="725" cy="1043" rx="12.9" ry="18.5" transform="rotate(30 725 1043)" fill="none"/>
<ellipse cx="728" cy="1044.7" rx="12.9" ry="18.5" transform="rotate(30 728 1044.7)" fill="none"/>
<ellipse cx="728" cy="1044.7" rx="10.1" ry="14.5" transform="rotate(30 728 1044.7)" fill="none"/>
<path d="M706,1041L724,1031L727,1036L709,1046Z" fill="#fff"/>
<ellipse cx="133" cy="999" rx="12.6" ry="18" transform="rotate(30 133 999)" fill="none"/>
<ellipse cx="136" cy="1000.7" rx="12.6" ry="18" transform="rotate(30 136 1000.7)" fill="none"/>
<ellipse cx="136" cy="1000.7" rx="9.8" ry="14" transform="rotate(30 136 1000.7)" fill="none"/>
<path d="M113,996L131,986L134,991L116,1001Z" fill="#fff"/>
<path d="M152.5,1029.8L154.1,1034.3A10.5 17.5 29.6 1 0 169.5,1007.3L164.8,1008.2A8.4 14 29.6 0 0 152.5,1029.8Z" fill="#fff"/>
<path d="M157.4,1038.4L165.4,1042.9A10.5 17.5 29.6 0 0 182.6,1012.5L174.6,1008A10.5 17.5 29.6 0 0 157.4,1038.4Z" fill="#fff"/>
<path d="M170.2,1043.7L173.7,1043.1A9 15 29.6 0 0 187.1,1019.6L185.8,1016.3A10.5 17.5 29.6 1 0 170.2,1043.7Z" fill="#fff"/>
<path d="M158.3,1038.6 156.9,1036.6 156.1,1034.1 155.8,1031.1 156.1,1027.9 157,1024.4 158.4,1021 160.2,1017.8 162.5,1014.8 165,1012.3 167.6,1010.4 170.3,1009.1 172.9,1008.5 175.3,1008.7"/>
<path d="M161.1,1040.2 159.7,1038.2 158.9,1035.7 158.6,1032.7 158.9,1029.5 159.8,1026 161.2,1022.6 163,1019.3 165.3,1016.4 167.8,1013.9 170.4,1011.9 173.1,1010.7 175.7,1010.1 178.1,1010.2"/>
<ellipse cx="182" cy="1032.3" rx="16.5" ry="29.5" transform="rotate(29.6 182 1032.3)" fill="#fff"/>
<path d="M172.5,1059.2L177.3,1059.2A15.1 27 29.6 0 0 202.7,1014.4L200.3,1010.3A16.5 29.5 29.6 1 0 172.5,1059.2Z" fill="#fff"/>
<path d="M167.3,1045.1L167,1053.2A21 37.5 29.6 1 0 192.3,1008.7L185.5,1013A15.1 27 29.6 0 0 167.3,1045.1Z" fill="#fff"/>
<path d="M181.8,1072.7L187.9,1072.4A19 34 29.6 0 0 219.4,1016.8L216.6,1011.4A21 37.5 29.6 1 0 181.8,1072.7Z" fill="#fff"/>
<path d="M175.9,1064.4L181.7,1079.3A25.2 45 29.6 1 0 222.2,1008L206.5,1010.5A19 34 29.6 0 0 175.9,1064.4Z" fill="#fff"/>
<path d="M198.3,1089.7L203.2,1089.2A23.5 42 29.6 0 0 241.8,1021.3L239.7,1016.9A25.2 45 29.6 1 0 198.3,1089.7Z" fill="#fff"/>
<path d="M188,1080.3L191.5,1088.1A26.6 47.5 29.6 1 0 234.8,1011.8L226.3,1012.8A23.5 42 29.6 0 0 188,1080.3Z" fill="#fff"/>
<path d="M198.5,1096.3L226.5,1112.2A26.6 47.5 29.6 0 0 273.5,1029.6L245.5,1013.7A26.6 47.5 29.6 0 0 198.5,1096.3Z" fill="#fff"/>
<ellipse cx="250" cy="1070.9" rx="26.6" ry="47.5" transform="rotate(29.6 250 1070.9)" fill="#fff"/>
<path d="M202.6,1098.4 198.8,1094 196.2,1088 195.1,1080.7 195.5,1072.3 197.3,1063.4 200.5,1054.2 204.9,1045.3 210.3,1036.9 216.6,1029.4 223.3,1023.3 230.3,1018.7 237.1,1015.9 243.6,1015.1 249.4,1016.1"/>
<path d="M206.6,1100.7 202.8,1096.3 200.2,1090.3 199.1,1082.9 199.5,1074.6 201.3,1065.7 204.5,1056.5 208.9,1047.5 214.3,1039.1 220.6,1031.7 227.3,1025.6 234.3,1021 241.1,1018.2 247.6,1017.3 253.4,1018.4"/>
<path d="M210.6,1102.9 206.8,1098.5 204.2,1092.5 203.1,1085.2 203.5,1076.9 205.3,1067.9 208.5,1058.8 212.9,1049.8 218.3,1041.4 224.6,1034 231.3,1027.8 238.3,1023.3 245.1,1020.5 251.6,1019.6 257.4,1020.6"/>
<path d="M214.6,1105.2 210.8,1100.8 208.2,1094.8 207.1,1087.5 207.5,1079.2 209.3,1070.2 212.5,1061.1 216.9,1052.1 222.3,1043.7 228.6,1036.2 235.3,1030.1 242.3,1025.5 249.1,1022.8 255.6,1021.9 261.4,1022.9"/>
<path d="M179.3,1078.3 177.1,1072.1 176.5,1064.6 177.3,1056.3 179.6,1047.5 183.3,1038.6 188.1,1030.1 193.9,1022.5 200.3,1016 207,1011 213.7,1007.7 220.1,1006.4"/>
<ellipse cx="250" cy="1070.9" rx="24.6" ry="44" transform="rotate(29.6 250 1070.9)" fill="none"/>
<ellipse cx="250" cy="1070.9" rx="22.7" ry="40.5" transform="rotate(29.6 250 1070.9)" fill="none"/>
<clipPath id="c4"><ellipse cx="250" cy="1070.9" rx="22.7" ry="40.5" transform="rotate(29.6 250 1070.9)" fill="none"/></clipPath>
<g clip-path="url(#c4)" fill="none">
<path d="M267.6,1034.5 271.3,1039 273.5,1045.2 274.1,1052.8 272.9,1061.3 270.2,1070.3"/>
<path d="M264.6,1032.8 268.3,1037.3 270.5,1043.5 271.1,1051.1 269.9,1059.6 267.2,1068.6"/>
<path d="M261.6,1031.1 265.3,1035.6 267.5,1041.8 268.1,1049.4 266.9,1057.9 264.2,1066.9"/>
<path d="M258.6,1029.4 262.3,1033.9 264.5,1040.1 265.1,1047.7 263.9,1056.2 261.2,1065.2"/>
<path d="M256.4,1094.2 250.5,1099.5 244.4,1103.4 238.4,1105.6 232.8,1106.1 227.9,1104.9 223.9,1101.9"/>
<path d="M253.4,1092.5 247.5,1097.8 241.4,1101.7 235.4,1103.9 229.8,1104.4 224.9,1103.2 220.9,1100.2"/>
<path d="M250.4,1090.8 244.5,1096.1 238.4,1100 232.4,1102.2 226.8,1102.7 221.9,1101.4 217.9,1098.5"/>
<path d="M247.4,1089.1 241.5,1094.4 235.4,1098.2 229.4,1100.5 223.8,1101 218.9,1099.7 214.9,1096.8"/>
<path d="M244.4,1087.4 238.5,1092.7 232.4,1096.5 226.4,1098.8 220.8,1099.3 215.9,1098 211.9,1095.1"/>
</g>
<ellipse cx="310" cy="1105" rx="32.9" ry="47" transform="rotate(29.6 310 1105)" fill="none"/>
<ellipse cx="315" cy="1107.8" rx="32.9" ry="47" transform="rotate(29.6 315 1107.8)" fill="none"/>
<ellipse cx="315" cy="1107.8" rx="30.1" ry="43" transform="rotate(29.6 315 1107.8)" fill="none"/>
<path d="M276,1085L299,1072L305,1078L282,1091Z" fill="#fff"/>
<path d="M288,1091L295,1087L298,1093L291,1097Z" fill="#fff"/>
<path d="M340.8,1133.1L343.2,1135.6A7.4 11.5 29.7 1 0 354.4,1116L351,1115.2A6.7 10.5 29.7 0 0 340.8,1133.1Z" fill="#fff"/>
<ellipse cx="350" cy="1126.5" rx="7.4" ry="11.5" transform="rotate(29.7 350 1126.5)" fill="#fff"/>
<path d="M344.6,1135.9L363.5,1146.9A7 11 29.7 1 0 374.4,1127.8L355.3,1117.1A6.9 10.8 29.7 0 0 344.6,1135.9Z" fill="#fff"/>
<ellipse cx="369" cy="1137.3" rx="7" ry="11" transform="rotate(29.7 369 1137.3)" fill="#fff"/>
<path d="M356.5,1119.8 373.5,1129.5"/>
<path d="M354.7,1122.9 371.7,1132.6"/>
<path d="M352.9,1126.1 369.9,1135.8"/>
<path d="M351.1,1129.2 368.1,1138.9"/>
<path d="M349.3,1132.3 366.3,1142"/>
<path d="M347.5,1135.5 364.5,1145.1"/>
<path d="M364.8,1149.3L371.8,1153.3A8 12.5 29.7 0 0 384.2,1131.6L377.2,1127.6A8 12.5 29.7 0 0 364.8,1149.3Z" fill="#fff"/>
<ellipse cx="378" cy="1142.5" rx="8" ry="12.5" transform="rotate(29.7 378 1142.5)" fill="#fff"/>
<path d="M367.8,1151 366.5,1150 365.5,1148.5 364.9,1146.6 364.7,1144.5 364.9,1142.2 365.5,1139.8 366.4,1137.4 367.7,1135.1 369.3,1133.1 371.1,1131.3 373,1130 374.9,1129.1 376.8,1128.6 378.6,1128.7 380.2,1129.3"/>
<path d="M372.7,1151.8L434.7,1187.1A6.8 10.7 29.7 0 0 445.3,1168.5L383.3,1133.2A6.8 10.7 29.7 0 0 372.7,1151.8Z" fill="#fff"/>
<path d="M433.8,1188.7L441.8,1193.2A8 12.5 29.7 0 0 454.2,1171.5L446.2,1166.9A8 12.5 29.7 0 0 433.8,1188.7Z" fill="#fff"/>
<ellipse cx="448" cy="1182.4" rx="8" ry="12.5" transform="rotate(29.7 448 1182.4)" fill="#fff"/>
<path d="M436.8,1190.4 435.5,1189.3 434.5,1187.8 433.9,1186 433.7,1183.8 433.9,1181.5 434.5,1179.1 435.4,1176.7 436.7,1174.4 438.3,1172.4 440.1,1170.6 442,1169.3 443.9,1168.4 445.8,1168 447.6,1168.1 449.2,1168.7"/>
<path d="M439.8,1192.1 438.5,1191 437.5,1189.5 436.9,1187.7 436.7,1185.5 436.9,1183.2 437.5,1180.8 438.4,1178.4 439.7,1176.1 441.3,1174.1 443.1,1172.4 445,1171 446.9,1170.1 448.8,1169.7 450.6,1169.8 452.2,1170.4"/>
<path d="M442.7,1191.7L525.7,1239A6.8 10.7 29.7 0 0 536.3,1220.4L453.3,1173.1A6.8 10.7 29.7 0 0 442.7,1191.7Z" fill="#fff"/>
<path d="M524.8,1240.5L533.8,1245.7A8 12.5 29.7 0 0 546.2,1223.9L537.2,1218.8A8 12.5 29.7 0 0 524.8,1240.5Z" fill="#fff"/>
<ellipse cx="540" cy="1234.8" rx="8" ry="12.5" transform="rotate(29.7 540 1234.8)" fill="#fff"/>
<path d="M527.8,1242.2 526.5,1241.2 525.5,1239.7 524.9,1237.8 524.7,1235.7 524.9,1233.4 525.5,1231 526.4,1228.6 527.7,1226.3 529.3,1224.3 531.1,1222.5 533,1221.2 534.9,1220.3 536.8,1219.8 538.6,1219.9 540.2,1220.5"/>
<path d="M530.8,1243.9 529.5,1242.9 528.5,1241.4 527.9,1239.5 527.7,1237.4 527.9,1235.1 528.5,1232.7 529.4,1230.3 530.7,1228 532.3,1226 534.1,1224.2 536,1222.9 537.9,1222 539.8,1221.6 541.6,1221.6 543.2,1222.2"/>
<path d="M534.7,1244.1L584.7,1272.6A6.8 10.7 29.7 0 0 595.3,1254L545.3,1225.5A6.8 10.7 29.7 0 0 534.7,1244.1Z" fill="#fff"/>
<path d="M568.1,1295.5L570.3,1299.5A31.1 44.5 29.7 1 0 611.1,1227.9L606.5,1228A29.4 42 29.7 0 0 568.1,1295.5Z" fill="#fff"/>
<path d="M579,1308.2L585,1311.7A31.1 44.5 29.7 0 0 629,1234.3L623,1230.9A31.1 44.5 29.7 0 0 579,1308.2Z" fill="#fff"/>
<path d="M596.9,1314.6L601.5,1314.6A29.4 42 29.7 0 0 639.9,1247.1L637.7,1243.1A31.1 44.5 29.7 1 0 596.9,1314.6Z" fill="#fff"/>
<path d="M590.2,1311.8L605.2,1320.3A29.4 42 29.7 0 0 646.8,1247.3L631.8,1238.8A29.4 42 29.7 0 0 590.2,1311.8Z" fill="#fff"/>
<path d="M614,1323L625.4,1324A25.9 37 29.7 0 0 660.3,1262.8L653.6,1253.5A29.4 42 29.7 1 0 614,1323Z" fill="#fff"/>
<path d="M627.2,1324.1L638.6,1324.2A21.7 31 29.7 0 0 667.2,1274.1L661.3,1264.3A25.9 37 29.7 1 0 627.2,1324.1Z" fill="#fff"/>
<path d="M640.4,1324.1L648.3,1323.5A18.2 26 29.7 0 0 671.5,1282.8L668,1275.6A21.7 31 29.7 1 0 640.4,1324.1Z" fill="#fff"/>
<path d="M648.3,1323.5L656.2,1322.8A14.7 21 29.7 0 0 674.9,1289.9L671.5,1282.8A18.2 26 29.7 1 0 648.3,1323.5Z" fill="#fff"/>
<path d="M659.5,1322.1L663.6,1320.8A11.9 17 29.7 0 0 677,1297.3L676,1293.1A14.7 21 29.7 1 0 659.5,1322.1Z" fill="#fff"/>
<ellipse cx="664" cy="1305.5" rx="11.9" ry="17" transform="rotate(29.7 664 1305.5)" fill="#fff"/>
<path d="M579.9,1307.4 575.7,1302 572.9,1295.2 571.6,1287.4 571.9,1278.9 573.7,1270.1 577.1,1261.4 581.7,1253.2 587.5,1245.8 594.2,1239.8 601.3,1235.2 608.7,1232.3 616,1231.3 622.8,1232.1"/>
<path d="M595.1,1313.8 591.1,1308.6 588.4,1302.2 587.1,1294.7 587.4,1286.6 589.2,1278.1 592.4,1269.8 596.8,1262 602.4,1255 608.7,1249.2 615.5,1244.8 622.6,1242.1 629.5,1241.1 636,1241.9"/>
<path d="M614,1318.9 610.5,1314.4 608.1,1308.7 607.1,1302.1 607.3,1294.9 608.9,1287.5 611.7,1280.2 615.6,1273.3 620.5,1267.2 626,1262.1 632.1,1258.2 638.3,1255.8 644.4,1254.9 650.1,1255.6"/>
<path d="M623.4,1319.8 620.3,1315.7 618.2,1310.6 617.2,1304.7 617.4,1298.3 618.8,1291.7 621.3,1285.2 624.8,1279.1 629.1,1273.6 634.1,1269 639.5,1265.6 645,1263.4 650.5,1262.6 655.6,1263.3"/>
<path d="M631.8,1320 629,1316.4 627.2,1312 626.3,1306.8 626.5,1301.2 627.7,1295.4 629.9,1289.6 633,1284.2 636.8,1279.4 641.2,1275.4 645.9,1272.4 650.8,1270.5 655.6,1269.8 660.1,1270.4"/>
<path d="M640.2,1320.2 637.8,1317.2 636.2,1313.3 635.4,1308.9 635.6,1304 636.7,1299 638.6,1294.1 641.2,1289.4 644.5,1285.3 648.3,1281.8 652.4,1279.2 656.6,1277.6 660.7,1277 664.6,1277.5"/>
<path d="M583.5,1308.3 579.4,1303 576.6,1296.4 575.4,1288.8 575.6,1280.4 577.5,1271.8 580.7,1263.3 585.3,1255.3 590.9,1248.2 597.4,1242.2 604.4,1237.7 611.7,1234.9 618.8,1233.9 625.4,1234.8"/>
<path d="M656.8,1318.1L697.8,1341.4A9.3 14.5 29.7 0 0 712.2,1316.3L671.2,1292.9A9.3 14.5 29.7 0 0 656.8,1318.1Z" fill="#fff"/>
<ellipse cx="705" cy="1328.9" rx="9.3" ry="14.5" transform="rotate(29.7 705 1328.9)" fill="#fff"/>
<path d="M672.2,1295.8 709.2,1316.9"/>
<path d="M670.1,1299.4 707.1,1320.5"/>
<path d="M668.1,1303 705.1,1324.1"/>
<path d="M666,1306.6 703,1327.7"/>
<path d="M663.9,1310.2 700.9,1331.3"/>
<path d="M661.9,1313.8 698.9,1334.9"/>
<path d="M659.8,1317.4 696.8,1338.5"/>
<ellipse cx="705" cy="1328.9" rx="9.3" ry="14.5" transform="rotate(29.7 705 1328.9)" fill="none"/>
<path d="M703.8,1337.9L748.8,1363.6A5.3 8.5 29.7 0 0 757.2,1348.8L712.2,1323.2A5.3 8.5 29.7 0 0 703.8,1337.9Z" fill="#fff"/>
<ellipse cx="753" cy="1356.2" rx="5.3" ry="8.5" transform="rotate(29.7 753 1356.2)" fill="#fff"/>
<path d="M707.6,1339.9 706.9,1339 706.4,1337.7 706.3,1336.3 706.4,1334.7 706.8,1333 707.5,1331.3 708.4,1329.7 709.5,1328.3 710.7,1327.1 712,1326.2 713.4,1325.6 714.7,1325.3 715.9,1325.4"/>
<path d="M710.6,1341.7 709.9,1340.7 709.4,1339.4 709.3,1338 709.4,1336.4 709.8,1334.7 710.5,1333 711.4,1331.4 712.5,1330 713.7,1328.8 715,1327.9 716.4,1327.3 717.7,1327 718.9,1327.1"/>
<path d="M713.6,1343.4 712.9,1342.4 712.4,1341.1 712.3,1339.7 712.4,1338.1 712.8,1336.4 713.5,1334.7 714.4,1333.2 715.5,1331.7 716.7,1330.5 718,1329.6 719.4,1329 720.7,1328.7 721.9,1328.8"/>
<path d="M716.6,1345.1 715.9,1344.1 715.4,1342.8 715.3,1341.4 715.4,1339.8 715.8,1338.1 716.5,1336.5 717.4,1334.9 718.5,1333.4 719.7,1332.2 721,1331.3 722.4,1330.7 723.7,1330.4 724.9,1330.5"/>
<path d="M719.6,1346.8 718.9,1345.8 718.4,1344.6 718.3,1343.1 718.4,1341.5 718.8,1339.8 719.5,1338.2 720.4,1336.6 721.5,1335.2 722.7,1333.9 724,1333 725.4,1332.4 726.7,1332.1 727.9,1332.2"/>
<path d="M722.6,1348.5 721.9,1347.5 721.4,1346.3 721.3,1344.8 721.4,1343.2 721.8,1341.5 722.5,1339.9 723.4,1338.3 724.5,1336.9 725.7,1335.7 727,1334.7 728.4,1334.1 729.7,1333.9 730.9,1333.9"/>
<path d="M725.6,1350.2 724.9,1349.2 724.4,1348 724.3,1346.5 724.4,1344.9 724.8,1343.2 725.5,1341.6 726.4,1340 727.5,1338.6 728.7,1337.4 730,1336.4 731.4,1335.8 732.7,1335.6 733.9,1335.7"/>
<path d="M728.6,1351.9 727.9,1350.9 727.4,1349.7 727.3,1348.2 727.4,1346.6 727.8,1345 728.5,1343.3 729.4,1341.7 730.5,1340.3 731.7,1339.1 733,1338.1 734.4,1337.5 735.7,1337.3 736.9,1337.4"/>
<path d="M731.6,1353.6 730.9,1352.6 730.4,1351.4 730.3,1349.9 730.4,1348.3 730.8,1346.7 731.5,1345 732.4,1343.4 733.5,1342 734.7,1340.8 736,1339.9 737.4,1339.2 738.7,1339 739.9,1339.1"/>
<path d="M734.6,1355.3 733.9,1354.4 733.4,1353.1 733.3,1351.7 733.4,1350.1 733.8,1348.4 734.5,1346.7 735.4,1345.1 736.5,1343.7 737.7,1342.5 739,1341.6 740.4,1341 741.7,1340.7 742.9,1340.8"/>
<path d="M737.6,1357 736.9,1356.1 736.4,1354.8 736.3,1353.4 736.4,1351.8 736.8,1350.1 737.5,1348.4 738.4,1346.8 739.5,1345.4 740.7,1344.2 742,1343.3 743.4,1342.7 744.7,1342.4 745.9,1342.5"/>
<path d="M740.6,1358.8 739.9,1357.8 739.4,1356.5 739.3,1355.1 739.4,1353.5 739.8,1351.8 740.5,1350.1 741.4,1348.5 742.5,1347.1 743.7,1345.9 745,1345 746.4,1344.4 747.7,1344.1 748.9,1344.2"/>
<path d="M743.6,1360.5 742.9,1359.5 742.4,1358.2 742.3,1356.8 742.4,1355.2 742.8,1353.5 743.5,1351.8 744.4,1350.3 745.5,1348.8 746.7,1347.6 748,1346.7 749.4,1346.1 750.7,1345.8 751.9,1345.9"/>
<path d="M746.6,1362.2 745.9,1361.2 745.4,1359.9 745.3,1358.5 745.4,1356.9 745.8,1355.2 746.5,1353.6 747.4,1352 748.5,1350.5 749.7,1349.3 751,1348.4 752.4,1347.8 753.7,1347.5 754.9,1347.6"/>
<path d="M755.1,1354.4 755.2,1354.9 755.2,1355.4 755.1,1356 754.9,1356.6 754.6,1357.1 754.3,1357.7 753.9,1358.1 753.4,1358.5 753,1358.8 752.5,1358.9"/>
</g>
<g fill="none" stroke="#222" stroke-width="1">
<path d="M194,381.8 212,392.1"/>
<path d="M284,433 336,462.5"/>
<path d="M340,464.8 348,469.3"/>
<path d="M354,472.7 395,496"/>
<path d="M400,498.8 405,501.7"/>
<path d="M410,504.5 458,531.8"/>
<path d="M463,534.6 468,537.5"/>
<path d="M512,562.5 540,578.4"/>
<path d="M546,581.8 552,585.2"/>
<path d="M556,587.5 578,600"/>
<path d="M558,337.8 566,342.3"/>
<path d="M585,353.1 604,363.8"/>
<path d="M608,366.1 611,367.8"/>
<path d="M616,370.6 633,380.2"/>
<path d="M736,438.4 750,446.3"/>
<path d="M753,448 756,449.7"/>
<path d="M312,803 367,834.3"/>
<path d="M377,840 392,848.5"/>
<path d="M396,850.8 399.5,852.8"/>
<path d="M404,855.3 413,860.4"/>
<path d="M440,875.8 451,882.1"/>
<path d="M461.6,888.1 479.6,898.3"/>
<path d="M487,902.6 518.4,920.4"/>
<path d="M524,923.6 530,927"/>
<path d="M542.4,934.1 562.4,945.5"/>
<path d="M564.8,946.8 568.8,949.1"/>
<path d="M572,950.9 585.6,958.7"/>
<path d="M690,1018.1 706,1027.2"/>
<path d="M710,1029.4 713,1031.1"/>
<path d="M135,1005.6 154,1016.4"/>
<path d="M232,1060.7 276,1085.7"/>
<path d="M297,1097.6 318,1109.5"/>
<path d="M322,1111.8 326,1114.1"/>
<path d="M330,1116.3 343,1123.7"/>
</g>
<text x="551.3" y="160.8" font-family="Liberation Sans, sans-serif" font-size="31.5" fill="#111" text-anchor="middle">8</text>
<text x="291" y="599.8" font-family="Liberation Sans, sans-serif" font-size="31.5" fill="#111" text-anchor="middle">1</text>
<text x="552.3" y="747.2" font-family="Liberation Sans, sans-serif" font-size="31.5" fill="#111" text-anchor="middle">7</text>
<text x="326" y="969.2" font-family="Liberation Sans, sans-serif" font-size="31.5" fill="#111" text-anchor="middle">7</text>
<text x="599.3" y="1121.2" font-family="Liberation Sans, sans-serif" font-size="31.5" fill="#111" text-anchor="middle">1</text>
<text x="341.2" y="1327" font-family="Liberation Sans, sans-serif" font-size="31.5" fill="#111" text-anchor="middle">8</text>
<text x="698.5" y="316.2" font-family="Liberation Sans, sans-serif" font-size="31.5" fill="#111" text-anchor="middle">3</text>
<text x="209.3" y="1167.7" font-family="Liberation Sans, sans-serif" font-size="31.5" fill="#111" text-anchor="middle">3</text>
<text x="957.5" y="469.8" font-family="Liberation Sans, sans-serif" font-size="36.5" fill="#111" text-anchor="middle" textLength="49" lengthAdjust="spacingAndGlyphs">RH</text>
<text x="956.3" y="1222.3" font-family="Liberation Sans, sans-serif" font-size="36.5" fill="#111" text-anchor="middle" textLength="44" lengthAdjust="spacingAndGlyphs">LH</text>
<text x="127.8" y="701.3" font-family="Liberation Sans, sans-serif" font-size="29" fill="#111" text-anchor="middle" textLength="166" lengthAdjust="spacingAndGlyphs" stroke="#111" stroke-width="0.6">TRANSAXLE</text>
<text x="794.4" y="745.4" font-family="Liberation Sans, sans-serif" font-size="29" fill="#111" text-anchor="middle" textLength="166" lengthAdjust="spacingAndGlyphs" stroke="#111" stroke-width="0.6">TRANSAXLE</text>
<rect x="665" y="267" width="81" height="81.5" fill="#ff0000" fill-opacity="0.5"/>
<rect x="170" y="1122" width="82" height="81.5" fill="#ff0000" fill-opacity="0.5"/>
</svg>
<div class="ft"><svg width="1000" height="100" viewBox="0 0 1000 100">
<g font-family="Liberation Sans, sans-serif" font-size="42" fill="#fafafa" lengthAdjust="spacingAndGlyphs">
<text x="161.5" y="69.5" textLength="173" lengthAdjust="spacingAndGlyphs">GENERAL</text>
<text x="343" y="69.5" textLength="158" lengthAdjust="spacingAndGlyphs">MOTORS</text>
<text x="509" y="69.5">-</text>
<text x="531" y="69.5" textLength="178" lengthAdjust="spacingAndGlyphs">96220402</text>
<text x="757" y="69.5" textLength="30" lengthAdjust="spacingAndGlyphs">N</text>
<text x="793" y="69.5">-</text>
<text x="815" y="69.5" textLength="24" lengthAdjust="spacingAndGlyphs">3</text>
</g>
</svg></div>
</body></html>
